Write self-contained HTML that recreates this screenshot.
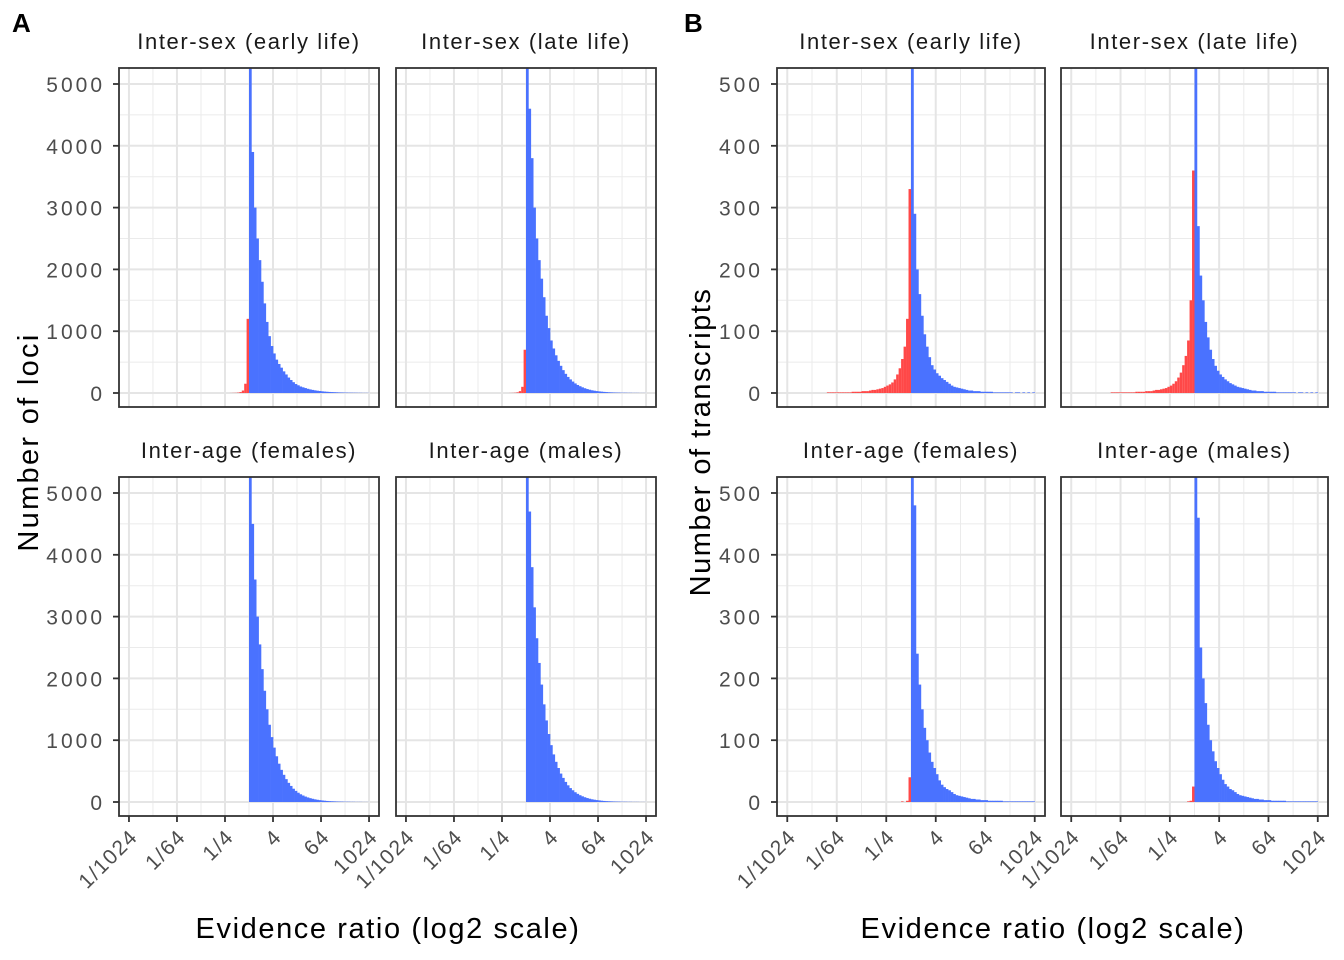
<!DOCTYPE html>
<html><head><meta charset="utf-8"><style>
html,body{margin:0;padding:0;background:#fff}
svg{display:block;font-family:"Liberation Sans",sans-serif}
</style></head><body>
<svg id="chart" width="1344" height="960" viewBox="0 0 1344 960"></svg>
<script>
// ---- data (bin width 0.2 log2 units; blue bins start at 0 going right, red bins start at 0 going left)
const binWidth = 0.2;
const xTickValues = [-10, -6, -2, 2, 6, 10];
const xTickLabels = ["1/1024", "1/64", "1/4", "4", "64", "1024"];
const xMinorValues = [-8, -4, 0, 4, 8];
const yTicksLoci = [0, 1000, 2000, 3000, 4000, 5000];
const yTicksTranscripts = [0, 100, 200, 300, 400, 500];
const facetTitles = ["Inter-sex (early life)", "Inter-sex (late life)", "Inter-age (females)", "Inter-age (males)"];

const lociSexEarlyBlue = [6000,3900,3000,2500,2150,1800,1450,1150,920,760,640,540,470,410,350,300,250,210,175,145,125,105,92,80,68,58,50,43,37,32,27,23,20,17,15,13,11,9,8,7,6,5,5,4,4,3,3,2,2,2];
const lociSexEarlyRed = [1200,150,40,15,6,3,2,1];
const lociSexLateBlue = [6000,4600,3800,3000,2500,2150,1850,1550,1250,1050,850,720,610,520,440,370,310,260,220,185,155,130,110,92,77,64,53,44,37,31,26,22,18,15,12,10,8,7,6,5,4,4,3,3,2,2,2,1,1,1];
const lociSexLateRed = [700,100,30,10,4,2,1];
const lociAgeFemBlue = [6000,4500,3600,3000,2550,2150,1800,1500,1250,1050,880,740,620,520,440,370,310,260,215,180,150,125,105,88,74,62,52,43,36,30,25,21,17,14,12,10,8,7,6,5,4,4,3,3,2,2,2,1,1,1];
const lociAgeFemRed = [0];
const lociAgeMaleBlue = [6000,4700,3800,3150,2650,2250,1900,1580,1320,1100,920,770,650,550,460,390,325,270,225,190,158,132,110,92,77,64,53,44,37,31,26,21,17,14,12,10,8,7,6,5,4,4,3,3,2,2,2,1,1,1];
const lociAgeMaleRed = [0];

const trSexEarlyBlue = [800,290,200,160,125,95,75,58,45,38,32,28,24,21,18,15,12,10,9,8,7,6,5,4,4,3,3,3,2,2,2,2,2,1,1,1,1,1,1,1,1,0,1,1,0,1,0,1,0,1];
const trSexEarlyRed = [330,120,75,55,40,30,22,17,14,12,10,8,7,6,5,5,4,3,3,3,2,2,2,2,1,1,1,1,1,1,1,1,1,1];
const trSexLateBlue = [800,270,190,150,115,90,70,55,44,36,30,26,22,19,16,14,12,10,9,8,7,6,5,4,4,3,3,3,2,2,2,2,2,1,1,1,1,1,1,1,1,0,1,1,0,1,0,1,0,1];
const trSexLateRed = [360,150,85,60,45,33,25,19,15,12,10,8,7,6,5,5,4,3,3,3,2,2,2,2,1,1,1,1,1,1,1,1,1,1];
const trAgeFemBlue = [1000,480,240,190,150,120,100,80,65,55,45,35,28,24,21,19,16,13,11,10,9,8,7,6,5,5,4,4,3,3,3,2,2,2,2,2,2,1,1,1,1,1,1,1,1,1,1,1,1,1];
const trAgeFemRed = [40,2,0,1];
const trAgeMaleBlue = [1000,460,250,200,160,125,100,82,66,55,45,36,29,25,21,19,16,13,11,10,9,8,7,6,5,5,4,4,3,3,3,2,2,2,2,2,2,1,1,1,1,1,1,1,1,1,1,1,1,1];
const trAgeMaleRed = [25,2,1];

// ---- rendering
const NS = "http://www.w3.org/2000/svg";
const svg = document.getElementById("chart");
function mk(tag, attrs, parent) {
  const e = document.createElementNS(NS, tag);
  for (const k in attrs) e.setAttribute(k, attrs[k]);
  (parent || svg).appendChild(e);
  return e;
}
const XMIN = -10.83, XMAX = 10.83;
const rows = [[68, 407], [477, 816]];
const panelsDef = [
  {x0:119, x1:379, r:0, yMax:5000, ticks:yTicksLoci, blue:lociSexEarlyBlue, red:lociSexEarlyRed, t:0, left:true, bottom:false},
  {x0:396, x1:656, r:0, yMax:5000, ticks:yTicksLoci, blue:lociSexLateBlue, red:lociSexLateRed, t:1, left:false, bottom:false},
  {x0:119, x1:379, r:1, yMax:5000, ticks:yTicksLoci, blue:lociAgeFemBlue, red:lociAgeFemRed, t:2, left:true, bottom:true},
  {x0:396, x1:656, r:1, yMax:5000, ticks:yTicksLoci, blue:lociAgeMaleBlue, red:lociAgeMaleRed, t:3, left:false, bottom:true},
  {x0:777, x1:1045, r:0, yMax:500, ticks:yTicksTranscripts, blue:trSexEarlyBlue, red:trSexEarlyRed, t:0, left:true, bottom:false},
  {x0:1061, x1:1328, r:0, yMax:500, ticks:yTicksTranscripts, blue:trSexLateBlue, red:trSexLateRed, t:1, left:false, bottom:false},
  {x0:777, x1:1045, r:1, yMax:500, ticks:yTicksTranscripts, blue:trAgeFemBlue, red:trAgeFemRed, t:2, left:true, bottom:true},
  {x0:1061, x1:1328, r:1, yMax:500, ticks:yTicksTranscripts, blue:trAgeMaleBlue, red:trAgeMaleRed, t:3, left:false, bottom:true}
];
const defs = mk("defs", {});
panelsDef.forEach((p, i) => {
  const [y0, y1] = rows[p.r];
  const zeroY = y1 - 14, topY = y1 - 323;
  const ys = v => zeroY - v / p.yMax * (zeroY - topY);
  const xs = v => p.x0 + (v - XMIN) / (XMAX - XMIN) * (p.x1 - p.x0);
  const g = mk("g", {});
  
  
  const cp = mk("clipPath", {id: "cp" + i}, defs);
  mk("rect", {x: p.x0, y: y0, width: p.x1 - p.x0, height: y1 - y0}, cp);
  const minorY = p.ticks.slice(0, -1).map((t, k) => (t + p.ticks[k + 1]) / 2);
  minorY.forEach(v => mk("line", {x1:p.x0, x2:p.x1, y1:ys(v), y2:ys(v), stroke:"#ebebeb", "stroke-width":1}, g));
  xMinorValues.forEach(v => mk("line", {x1:xs(v), x2:xs(v), y1:y0, y2:y1, stroke:"#ebebeb", "stroke-width":1}, g));
  p.ticks.forEach(v => mk("line", {x1:p.x0, x2:p.x1, y1:ys(v), y2:ys(v), stroke:"#e5e5e5", "stroke-width":2}, g));
  xTickValues.forEach(v => mk("line", {x1:xs(v), x2:xs(v), y1:y0, y2:y1, stroke:"#e5e5e5", "stroke-width":2}, g));
  const bg = mk("g", {"clip-path": "url(#cp" + i + ")"}, g);
  p.blue.forEach((v, k) => {
    if (!v) return;
    const b = mk("rect", {x: xs(k * binWidth), y: ys(v), width: xs((k + 1) * binWidth) - xs(k * binWidth) + 0.3, height: zeroY - ys(v), fill: "#4a72ff"}, bg);
    
    
  });
  p.red.forEach((v, k) => {
    if (!v) return;
    const b = mk("rect", {x: xs(-(k + 1) * binWidth), y: ys(v), width: xs(-k * binWidth) - xs(-(k + 1) * binWidth), height: zeroY - ys(v), fill: "#ff4848"}, bg);
    
    
  });
  mk("rect", {x:p.x0, y:y0, width:p.x1 - p.x0, height:y1 - y0, fill:"none", stroke:"#333", "stroke-width":1.8}, g);
  const st = mk("text", {x:(p.x0 + p.x1) / 2, y:y0 - 19, "text-anchor":"middle", "font-size":22, "letter-spacing":1.6, fill:"#1a1a1a"}, g);
  st.textContent = facetTitles[p.t];
  
  
  if (p.left) {
    p.ticks.forEach(v => {
      mk("line", {x1:p.x0 - 6, x2:p.x0, y1:ys(v), y2:ys(v), stroke:"#333", "stroke-width":1.8}, g);
      const t = mk("text", {x:p.x0 - 14, y:ys(v) + 8, "text-anchor":"end", "font-size":21, "letter-spacing":3, fill:"#4d4d4d"}, g);
      t.textContent = String(v);
      
      
    });
  }
  if (p.bottom) {
    xTickValues.forEach((v, k) => {
      mk("line", {x1:xs(v), x2:xs(v), y1:y1, y2:y1 + 6, stroke:"#333", "stroke-width":1.8}, g);
      const tx = xs(v) + 10, ty = y1 + 22;
      const t = mk("text", {x:tx, y:ty, "text-anchor":"end", "font-size":21, "letter-spacing":1.5, fill:"#4d4d4d", transform:"rotate(-45 " + tx + " " + ty + ")"}, g);
      t.textContent = xTickLabels[k];
      
      
    });
  }
});
function txt(s, attrs, name) {
  const t = mk("text", attrs);
  t.textContent = s;
  
  
}
txt("A", {x:12, y:32, "font-size":26, "font-weight":"bold", fill:"#000"}, "panel-label-a");
txt("B", {x:684, y:32, "font-size":26, "font-weight":"bold", fill:"#000"}, "panel-label-b");
txt("Evidence ratio (log2 scale)", {x:388, y:938, "text-anchor":"middle", "font-size":29, "letter-spacing":1.6, fill:"#000"}, "x-axis-title-a");
txt("Evidence ratio (log2 scale)", {x:1053, y:938, "text-anchor":"middle", "font-size":29, "letter-spacing":1.6, fill:"#000"}, "x-axis-title-b");
txt("Number of loci", {x:38, y:442, "text-anchor":"middle", "font-size":29, "letter-spacing":2.3, fill:"#000", transform:"rotate(-90 38 442)"}, "y-axis-title-a");
txt("Number of transcripts", {x:710, y:442, "text-anchor":"middle", "font-size":29, "letter-spacing":1.5, fill:"#000", transform:"rotate(-90 710 442)"}, "y-axis-title-b");
</script>
</body></html>
